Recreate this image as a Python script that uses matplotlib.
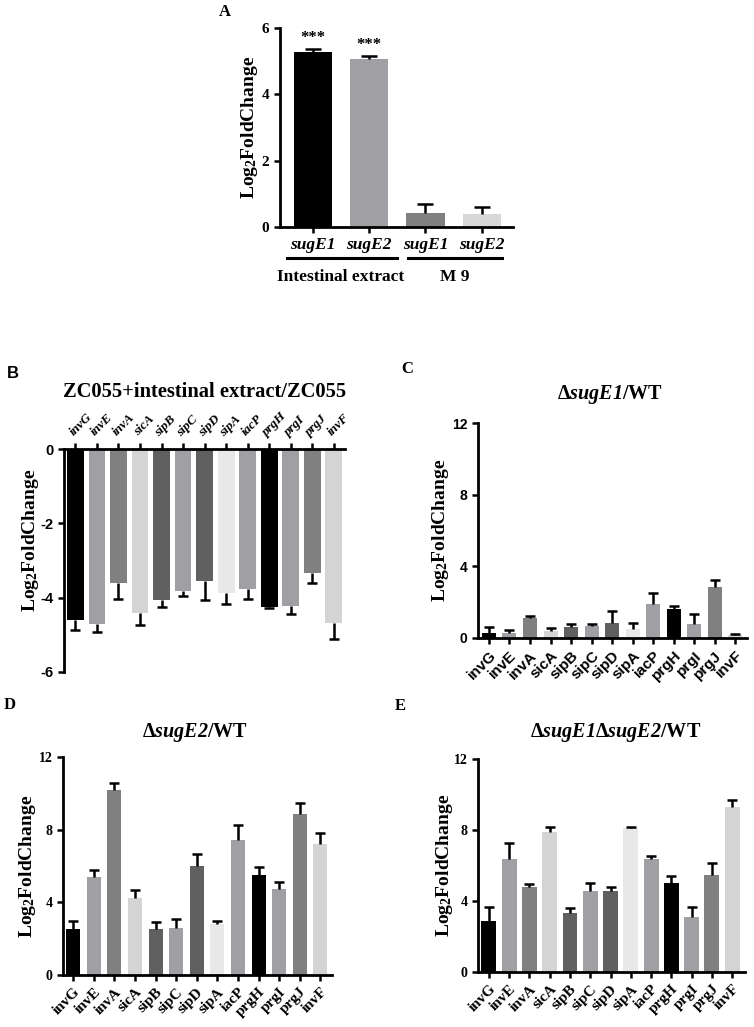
import numpy as np
import matplotlib
matplotlib.use("Agg")
import matplotlib.pyplot as plt
import matplotlib.transforms as mtransforms

plt.rcParams['mathtext.fontset'] = 'custom'
plt.rcParams['mathtext.rm'] = 'Liberation Serif:bold'
plt.rcParams['mathtext.it'] = 'Liberation Serif:italic:bold'
plt.rcParams['mathtext.bf'] = 'Liberation Serif:bold'
plt.rcParams['mathtext.sf'] = 'Liberation Serif:italic:bold'  # used for gene names in titles
plt.rcParams['axes.unicode_minus'] = False

SERIF = 'Liberation Serif'
SANS = 'Liberation Sans'

# panel A
a_labels = ['sugE1', 'sugE2', 'sugE1', 'sugE2']
a_vals = [5.27, 5.06, 0.42, 0.39]
a_err = [0.09, 0.10, 0.27, 0.21]
a_colors = ['#000000', '#a0a0a4', '#808080', '#d8d8d8']
a_groups = ['Intestinal extract', 'M 9']

# genes (panels B-E)
genes = ['invG', 'invE', 'invA', 'sicA', 'sipB', 'sipC', 'sipD', 'sipA',
         'iacP', 'prgH', 'prgI', 'prgJ', 'invF']
gene_colors = ['#000000', '#a0a0a4', '#808080', '#d4d4d4', '#606060', '#a0a0a4',
               '#606060', '#e8e8e8', '#a0a0a4', '#000000', '#a0a0a4', '#808080', '#d4d4d4']

b_vals = [-4.60, -4.71, -3.61, -4.41, -4.06, -3.83, -3.56, -3.87, -3.78, -4.25, -4.22, -3.35, -4.67]
b_err = [0.27, 0.22, 0.42, 0.33, 0.19, 0.13, 0.50, 0.29, 0.25, 0.04, 0.21, 0.26, 0.44]

c_vals = [0.28, 0.30, 1.09, 0.39, 0.62, 0.68, 0.85, 0.51, 1.92, 1.63, 0.77, 2.84, 0.15]
c_err = [0.34, 0.17, 0.13, 0.14, 0.15, 0.09, 0.65, 0.34, 0.58, 0.15, 0.56, 0.37, 0.09]

d_vals = [2.51, 5.40, 10.20, 4.24, 2.55, 2.59, 6.01, 2.81, 7.44, 5.49, 4.74, 8.87, 7.20]
d_err = [0.47, 0.37, 0.35, 0.45, 0.39, 0.48, 0.65, 0.17, 0.84, 0.43, 0.38, 0.62, 0.61]

e_vals = [2.88, 6.35, 4.76, 7.87, 3.33, 4.58, 4.58, 8.10, 6.35, 4.99, 3.11, 5.46, 9.28]
e_err = [0.79, 0.90, 0.19, 0.28, 0.25, 0.41, 0.22, 0.09, 0.20, 0.43, 0.56, 0.66, 0.38]

YLAB = r'Log$_{\rm 2}$FoldChange'
YLAB_SIZE = 14

fig = plt.figure(figsize=(7.54, 10.27), dpi=100)


def style_axes(ax, sides=('left', 'bottom')):
    for s in ['left', 'right', 'top', 'bottom']:
        ax.spines[s].set_visible(s in sides)
        ax.spines[s].set_linewidth(2)
    ax.tick_params(width=1.8, length=4, direction='out')


def bars(ax, vals, err, colors, width, capsize, down=False):
    x = np.arange(len(vals))
    zeros = np.zeros(len(vals))
    yerr = [err, zeros] if down else [zeros, err]
    ax.bar(x, vals, width=width, color=colors, edgecolor='none', zorder=2)
    eb = ax.errorbar(x, vals, yerr=yerr, fmt='none', ecolor='black', elinewidth=1.8,
                     capsize=capsize, capthick=1.8, zorder=3)
    # only one-sided caps (T shape)
    caps = eb[1]
    caps[1 if down else 0].set_visible(False)
    return x


# ---------------- A
axA = fig.add_axes([0.371, 0.779, 0.309, 0.194])
style_axes(axA)
x = bars(axA, a_vals, a_err, a_colors, 0.68, 6)
axA.set_xlim(-0.59, 3.55)
axA.set_ylim(0, 6)
axA.set_yticks([0, 2, 4, 6])
axA.set_xticks(x)
axA.set_xticklabels(a_labels, fontfamily=SERIF, fontweight='bold', fontstyle='italic', fontsize=12.5)
for t in axA.get_yticklabels():
    t.set_fontfamily(SERIF); t.set_fontweight('bold'); t.set_fontsize(11)
axA.set_ylabel(YLAB, fontfamily=SERIF, fontweight='bold', fontsize=YLAB_SIZE)
axA.yaxis.set_label_coords(-0.085, 0.5)
for i in [0, 1]:
    axA.text(x[i], a_vals[i] + a_err[i] + 0.08, '***', ha='center', va='bottom',
             fontfamily=SERIF, fontweight='bold', fontsize=12)
trA = mtransforms.blended_transform_factory(axA.transData, axA.transAxes)
for (x0, x1), g, xc in zip([(-0.46, 1.49), (1.69, 3.36)], a_groups, [0.5, 2.52]):
    axA.plot([x0, x1], [-0.156, -0.156], transform=trA, color='black', lw=2.2, clip_on=False)
    axA.text(xc, -0.25, g, transform=trA, ha='center', va='center',
             fontfamily=SERIF, fontweight='bold', fontsize=12.5)
fig.text(225 / 754, 1 - 12 / 1027, 'A', ha='center', va='center',
         fontfamily=SERIF, fontweight='bold', fontsize=12)

# ---------------- B
axB = fig.add_axes([0.0849, 0.3457, 0.3727, 0.2171])
style_axes(axB, ('left', 'top'))
x = bars(axB, b_vals, b_err, gene_colors, 0.78, 3.5, down=True)
axB.set_xlim(-0.53, 12.52)
axB.set_ylim(-6, 0)
axB.set_yticks([0, -2, -4, -6])
axB.xaxis.tick_top()
axB.set_xticks(x)
axB.set_xticklabels(genes, rotation=45, ha='left', va='bottom', rotation_mode='anchor',
                    fontfamily=SERIF, fontweight='bold', fontstyle='italic', fontsize=9.5)
for t in axB.get_yticklabels():
    t.set_fontfamily(SANS); t.set_fontweight('bold'); t.set_fontsize(10.5)
axB.set_ylabel(YLAB, fontfamily=SERIF, fontweight='bold', fontsize=YLAB_SIZE)
axB.yaxis.set_label_coords(-0.082, 0.59)
fig.text(205 / 754, 1 - 392 / 1027, 'ZC055+intestinal extract/ZC055', ha='center', va='center',
         fontfamily=SERIF, fontweight='bold', fontsize=14.8)
fig.text(13 / 754, 1 - 373 / 1027, 'B', ha='center', va='center',
         fontfamily=SANS, fontweight='bold', fontsize=12)


def gene_panel(rect, vals, err, width, tickfont, xlim, title, title_xy, letter, letter_xy, ylab_x):
    ax = fig.add_axes(rect)
    style_axes(ax)
    x = bars(ax, vals, err, gene_colors, width, 3.5)
    ax.set_xlim(*xlim)
    ax.set_ylim(0, 12)
    ax.set_yticks([0, 4, 8, 12])
    ax.set_xticks(x)
    ax.set_xticklabels(genes, rotation=45, ha='right', va='top', rotation_mode='anchor',
                       fontfamily=tickfont, fontweight='bold', fontsize=11)
    for t in ax.get_yticklabels():
        t.set_fontfamily(tickfont); t.set_fontweight('bold'); t.set_fontsize(10)
    ax.set_ylabel(YLAB, fontfamily=SERIF, fontweight='bold', fontsize=YLAB_SIZE)
    ax.yaxis.set_label_coords(ylab_x, 0.5)
    fig.text(title_xy[0] / 754, 1 - title_xy[1] / 1027, title, ha='center', va='center',
             fontfamily=SERIF, fontweight='bold', fontsize=14.5)
    fig.text(letter_xy[0] / 754, 1 - letter_xy[1] / 1027, letter, ha='center', va='center',
             fontfamily=SERIF, fontweight='bold', fontsize=12)
    return ax


gene_panel([0.634, 0.3788, 0.3568, 0.2093], c_vals, c_err, 0.68, SANS, (-0.53, 12.57),
           r'$\Delta\mathsf{sugE1}$/WT', (610, 394), 'C', (407, 369), -0.1)
gene_panel([0.0836, 0.0506, 0.3568, 0.2123], d_vals, d_err, 0.68, SERIF, (-0.49, 12.57),
           r'$\Delta\mathsf{sugE2}$/WT', (195, 732), 'D', (10, 705), -0.092)
gene_panel([0.634, 0.0536, 0.3541, 0.2074], e_vals, e_err, 0.74, SERIF, (-0.54, 12.64),
           r'$\Delta\mathsf{sugE1}\Delta\mathsf{sugE2}$/WT', (616, 733), 'E', (400, 706), -0.085)

fig.savefig('out.png', dpi=100)
